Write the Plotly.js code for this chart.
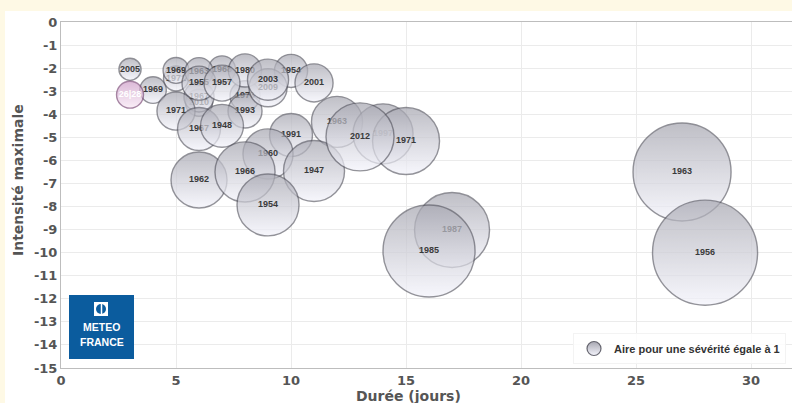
<!DOCTYPE html>
<html><head><meta charset="utf-8">
<script src="https://cdn.plot.ly/plotly-3.0.1.min.js"></script>
<style>
html,body{margin:0;padding:0;background:#fef9e5;width:792px;height:403px;overflow:hidden}
#chart{position:absolute;left:5px;top:11px;width:787px;height:392px;background:#fff}
</style>
</head><body><div id="chart"></div>
<script>
// Vagues de froid : durée (jours), intensité maximale, sévérité (aire de la bulle)
const labels    = ["2005","26|28","1969","1969","1971","1963","1955","1968","1957","1980","2003","2009","1954","2001","1971","1967","2010","1973","1993","1967","1948","1991","1963","2012","1997","1971","1960","1962","1966","1947","1954","1987","1985","1963","1956"];
const duree     = [3,3,4,5,5,6,6,7,7,8,9,9,10,11,5,6,6,8,8,6,7,10,12,13,14,15,9,6,8,11,9,17,16,27,28];
const intensite = [-2.05,-3.15,-2.95,-2.1,-2.45,-2.15,-2.65,-2.05,-2.65,-2.1,-2.5,-2.85,-2.12,-2.64,-3.86,-3.25,-3.5,-3.2,-3.86,-4.64,-4.5,-4.9,-4.33,-4.98,-4.85,-5.16,-5.72,-6.85,-6.5,-6.46,-7.93,-9.02,-9.93,-6.5,-10.0];
const severite  = [2.5,3.7,3.6,3.4,3.2,4.0,5.9,3.7,6.6,5.6,8.6,7.4,5.6,7.4,7.4,4.6,3.7,4.6,5.9,9.4,9.4,9.4,13.3,23.6,18.4,22.9,12.8,16.0,18.4,19.0,19.6,28.7,43.2,49.0,56.3];
const highlightLabels = ["26|28"];
const xTicks = [0,5,10,15,20,25,30];
const yTicks = [0,-1,-2,-3,-4,-5,-6,-7,-8,-9,-10,-11,-12,-13,-14,-15];
const legendLabel = "Aire pour une sévérité égale à 1";

const order = labels.map((_, i) => i).sort((a, b) => severite[a] - severite[b] || a - b);
const traces = [];
order.forEach(i => {
  const pink = highlightLabels.includes(labels[i]);
  traces.push({
    type: 'scatter', mode: 'markers+text',
    x: [duree[i]], y: [intensite[i]], text: [labels[i]],
    textposition: 'middle center',
    textfont: {family: 'Liberation Sans, Arial, sans-serif', size: 9, color: pink ? '#ffffff' : '#3a3a3a', weight: 'bold'},
    marker: {
      size: [severite[i]], sizemode: 'area', sizeref: 1/98,
      color: pink ? '#cf9fc9' : '#a7a7b1',
      gradient: {type: 'vertical', color: pink ? '#f8e8f5' : '#f4f4fc'},
      opacity: 0.72,
      line: {color: pink ? 'rgba(120,70,115,0.9)' : 'rgba(80,80,90,0.85)', width: 1.4}
    },
    showlegend: false, hoverinfo: 'skip', cliponaxis: true
  });
});
traces.push({
  type: 'scatter', mode: 'markers', x: [null], y: [null], name: legendLabel,
  marker: {size: 14, color: '#a7a7b1', gradient: {type: 'vertical', color: '#f4f4fc'},
           line: {color: 'rgba(80,80,90,0.85)', width: 1.2}},
  showlegend: true, hoverinfo: 'skip'
});

const PX = v => (v - 61) / 731;
const PY = v => (368 - v) / 346;
const logoFont = {family: 'Liberation Sans, Arial, sans-serif', size: 10.5, color: '#ffffff', weight: 'bold'};
const titleFont = {family: 'DejaVu Sans, sans-serif', size: 14, color: '#555', weight: 'bold'};

const layout = {
  width: 787, height: 392,
  margin: {l: 56, r: 0, t: 11, b: 35},
  paper_bgcolor: '#ffffff', plot_bgcolor: '#ffffff',
  font: {family: 'DejaVu Sans, sans-serif', color: '#555'},
  xaxis: {
    range: [0, 31.78], tickvals: xTicks, ticktext: xTicks.map(String),
    showgrid: true, gridcolor: '#ebebeb', gridwidth: 1,
    showline: true, linecolor: '#bdbdbd', linewidth: 1, mirror: true,
    zeroline: false, ticks: '',
    tickfont: {family: 'DejaVu Sans, sans-serif', size: 13, color: '#555', weight: 'bold'}
  },
  yaxis: {
    range: [-15, 0], tickvals: yTicks, ticktext: yTicks.map(String),
    showgrid: true, gridcolor: '#ebebeb', gridwidth: 1,
    showline: true, linecolor: '#bdbdbd', linewidth: 1,
    zeroline: false, ticks: '',
    tickfont: {family: 'DejaVu Sans, sans-serif', size: 13, color: '#555', weight: 'bold'}
  },
  showlegend: true,
  legend: {
    x: PX(786), xanchor: 'right', y: PY(364), yanchor: 'bottom',
    bgcolor: 'rgba(255,255,255,0.85)', bordercolor: '#f3f3f3', borderwidth: 1,
    font: {family: 'Liberation Sans, Arial, sans-serif', size: 11, color: '#333', weight: 'bold'},
    itemsizing: 'trace'
  },
  shapes: [
    {type: 'rect', xref: 'paper', yref: 'paper', x0: PX(69), x1: PX(134), y0: PY(359), y1: PY(295),
     fillcolor: '#0b5c9e', line: {width: 0}},
    {type: 'rect', xref: 'paper', yref: 'paper', x0: PX(94), x1: PX(108), y0: PY(316), y1: PY(302),
     fillcolor: '#ffffff', line: {width: 0}},
    {type: 'circle', xref: 'paper', yref: 'paper', x0: PX(96), x1: PX(106), y0: PY(314), y1: PY(304),
     fillcolor: '#0b5c9e', line: {width: 0}},
    {type: 'line', xref: 'paper', yref: 'paper', x0: PX(101.5), x1: PX(101.5), y0: PY(315), y1: PY(303),
     line: {color: '#ffffff', width: 1.5}}
  ],
  annotations: [
    {text: 'METEO', xref: 'paper', yref: 'paper', x: PX(101.5), y: PY(327), showarrow: false,
     xanchor: 'center', yanchor: 'middle', font: logoFont},
    {text: 'FRANCE', xref: 'paper', yref: 'paper', x: PX(101.5), y: PY(342), showarrow: false,
     xanchor: 'center', yanchor: 'middle', font: logoFont},
    {text: 'Durée (jours)', xref: 'paper', yref: 'paper', x: PX(408), y: PY(396), showarrow: false,
     xanchor: 'center', yanchor: 'middle', font: titleFont},
    {text: 'Intensité maximale', xref: 'paper', yref: 'paper', x: PX(18), y: PY(180), showarrow: false,
     xanchor: 'center', yanchor: 'middle', textangle: -90, font: titleFont}
  ]
};

Plotly.newPlot('chart', traces, layout, {staticPlot: true, displayModeBar: false});
</script>
</body></html>
